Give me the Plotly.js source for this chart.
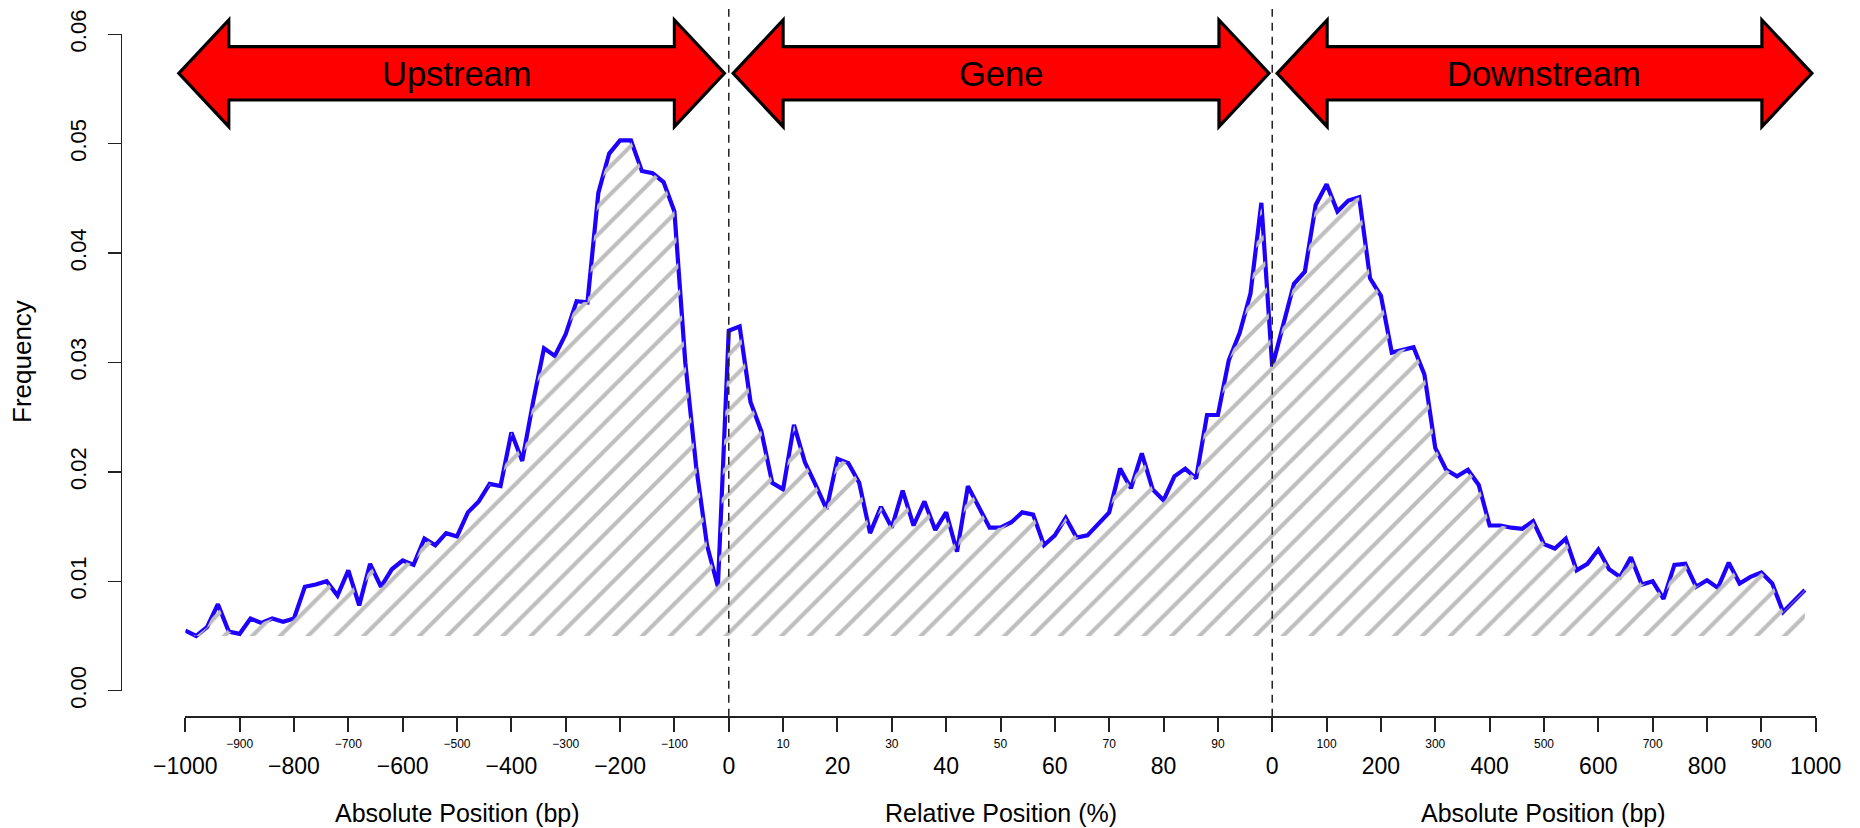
<!DOCTYPE html>
<html><head><meta charset="utf-8">
<script src="https://cdn.plot.ly/plotly-3.0.1.min.js"></script>
<style>html,body{margin:0;padding:0;background:#fff;} #chart{width:1860px;height:828px;}</style>
</head><body><div id="chart"></div>
<script>
// ---------------- DATA ----------------
const upstreamPos = [-1000,-980,-960,-940,-920,-900,-880,-860,-840,-820,-800,-780,-760,-740,-720,-700,-680,-660,-640,-620,-600,-580,-560,-540,-520,-500,-480,-460,-440,-420,-400,-380,-360,-340,-320,-300,-280,-260,-240,-220,-200,-180,-160,-140,-120,-100,-80,-60,-40,-20];
const upstreamFreq = [0.0055,0.0050,0.0058,0.0079,0.0054,0.0052,0.0066,0.0062,0.0066,0.0063,0.0066,0.0095,0.0097,0.0100,0.0087,0.0110,0.0078,0.0116,0.0095,0.0111,0.0119,0.0115,0.0139,0.0133,0.0144,0.0141,0.0163,0.0173,0.0189,0.0187,0.0236,0.0210,0.0264,0.0313,0.0306,0.0326,0.0356,0.0355,0.0455,0.0491,0.0503,0.0503,0.0475,0.0473,0.0465,0.0438,0.0300,0.0205,0.0133,0.0095];
const genePos = [0,2,4,6,8,10,12,14,16,18,20,22,24,26,28,30,32,34,36,38,40,42,44,46,48,50,52,54,56,58,60,62,64,66,68,70,72,74,76,78,80,82,84,86,88,90,92,94,96,98];
const geneFreq = [0.0329,0.0333,0.0264,0.0237,0.0190,0.0184,0.0243,0.0209,0.0188,0.0166,0.0212,0.0208,0.0190,0.0144,0.0168,0.0149,0.0183,0.0151,0.0173,0.0147,0.0163,0.0127,0.0187,0.0168,0.0149,0.0149,0.0154,0.0163,0.0161,0.0133,0.0142,0.0158,0.0140,0.0142,0.0153,0.0163,0.0203,0.0185,0.0217,0.0184,0.0174,0.0196,0.0203,0.0194,0.0252,0.0252,0.0302,0.0327,0.0363,0.0446];
const downstreamPos = [0,20,40,60,80,100,120,140,160,180,200,220,240,260,280,300,320,340,360,380,400,420,440,460,480,500,520,540,560,580,600,620,640,660,680,700,720,740,760,780,800,820,840,860,880,900,920,940,960,980];
const downstreamFreq = [0.0296,0.0335,0.0372,0.0383,0.0444,0.0463,0.0438,0.0448,0.0451,0.0377,0.0361,0.0309,0.0312,0.0314,0.0289,0.0222,0.0202,0.0196,0.0202,0.0188,0.0151,0.0151,0.0149,0.0148,0.0155,0.0134,0.0130,0.0139,0.0110,0.0116,0.0129,0.0111,0.0104,0.0122,0.0097,0.0100,0.0084,0.0115,0.0116,0.0095,0.0101,0.0094,0.0117,0.0098,0.0104,0.0108,0.0098,0.0072,0.0082,0.0092];

const upstreamMajorTicks = [-1000,-800,-600,-400,-200,0];
const upstreamMinorTicks = [-900,-700,-500,-300,-100];
const geneMajorTicks = [20,40,60,80];
const geneMinorTicks = [10,30,50,70,90];
const downstreamMajorTicks = [0,200,400,600,800,1000];
const downstreamMinorTicks = [100,300,500,700,900];
const yTicks = [0,0.01,0.02,0.03,0.04,0.05,0.06];

const regionNames = ["Upstream","Gene","Downstream"];
const axisTitles = ["Absolute Position (bp)","Relative Position (%)","Absolute Position (bp)"];
const yTitle = "Frequency";

// ---------------- MAPPING ----------------
// one shared x scale: upstream bp -> [-1000,0], gene % -> [0,1000], downstream bp -> [1000,2000]
const mapUp = v => v;
const mapGene = p => p * 10;
const mapDown = d => 1000 + d;

const W = 1860, H = 828;
const FONT = 'Liberation Sans, Arial, Helvetica, sans-serif';
const xRange = [-1000, 2000];
const xDomain = [185.3 / W, 1815.7 / W];
const yDomain = [1 - 690.7 / H, 1 - 34.3 / H];
const xAxisPos = 1 - 716.7 / H;
const yAxisPos = 120.5 / W;
const pyToPaper = py => 1 - py / H;
const xToPaper = x => xDomain[0] + (x - xRange[0]) / (xRange[1] - xRange[0]) * (xDomain[1] - xDomain[0]);

const xs = [].concat(upstreamPos.map(mapUp), genePos.map(mapGene), downstreamPos.map(mapDown));
const ys = [].concat(upstreamFreq, geneFreq, downstreamFreq);
const base = Math.min.apply(null, ys);

const lineTrace = {
  x: xs, y: ys, mode: 'lines', type: 'scatter',
  line: {color: 'rgb(30,0,255)', width: 4.2, shape: 'linear'},
  hoverinfo: 'skip'
};
const baseTrace = {
  x: [xs[0], xs[xs.length - 1]], y: [base, base], mode: 'lines', type: 'scatter',
  line: {width: 0, color: 'rgba(0,0,0,0)'}, hoverinfo: 'skip'
};
const hatchTrace = {
  x: xs, y: ys, mode: 'lines', type: 'scatter', fill: 'tonexty',
  fillcolor: 'rgba(0,0,0,0)',
  fillpattern: {shape: '/', fgcolor: '#bebebe', bgcolor: 'rgba(0,0,0,0)', size: 19.7, solidity: 0.21, fillmode: 'replace'},
  line: {width: 0, color: 'rgba(0,0,0,0)'}, hoverinfo: 'skip'
};

// ticks
const majorVals = [].concat(upstreamMajorTicks.map(mapUp), geneMajorTicks.map(mapGene), downstreamMajorTicks.map(mapDown));
const majorText = [].concat(upstreamMajorTicks, geneMajorTicks, downstreamMajorTicks).map(v => String(v).replace('-', '\u2212'));
const minorVals = [].concat(upstreamMinorTicks.map(mapUp), geneMinorTicks.map(mapGene), downstreamMinorTicks.map(mapDown));
const minorText = [].concat(upstreamMinorTicks, geneMinorTicks, downstreamMinorTicks).map(v => String(v).replace('-', '\u2212'));
const allTickVals = majorVals.concat(minorVals);
const allTickText = majorText.concat(minorVals.map(() => ''));

// arrows (decoration)
const arrowSpans = [[-1012, -8], [8, 994], [1009, 1993]];
const headLen = 92;
const cy = 73.3, shaftHalf = 26.7, headHalf = 53.3;
function arrowPath(a, b) {
  const L = xToPaper(a), R = xToPaper(b), bl = xToPaper(a + headLen), br = xToPaper(b - headLen);
  const yc = pyToPaper(cy), st = pyToPaper(cy - shaftHalf), sb = pyToPaper(cy + shaftHalf),
        ht = pyToPaper(cy - headHalf), hb = pyToPaper(cy + headHalf);
  return `M${L},${yc} L${bl},${ht} L${bl},${st} L${br},${st} L${br},${ht} L${R},${yc} L${br},${hb} L${br},${sb} L${bl},${sb} L${bl},${hb} Z`;
}
const shapes = [];
arrowSpans.forEach(s => shapes.push({
  type: 'path', xref: 'paper', yref: 'paper', path: arrowPath(s[0], s[1]),
  fillcolor: '#ff0000', line: {color: '#000', width: 3.2}, layer: 'above'
}));
[mapGene(0), mapGene(100)].forEach(x => shapes.push({
  type: 'line', xref: 'x', yref: 'paper', x0: x, x1: x, y0: xAxisPos, y1: pyToPaper(9),
  line: {color: '#222', width: 1.5, dash: '8px,6px'}, layer: 'above'
}));

const regionCenters = [mapUp(-500), mapGene(50), mapDown(500)];
const annotations = [];
regionNames.forEach((t, i) => annotations.push({
  text: t, xref: 'x', yref: 'paper', x: regionCenters[i], y: pyToPaper(74),
  xanchor: 'center', yanchor: 'middle', showarrow: false, font: {family: FONT, size: 34.5, color: '#000'}
}));
axisTitles.forEach((t, i) => annotations.push({
  text: t, xref: 'x', yref: 'paper', x: regionCenters[i], y: pyToPaper(813),
  xanchor: 'center', yanchor: 'middle', showarrow: false, font: {family: FONT, size: 25, color: '#000'}
}));
annotations.push({
  text: yTitle, xref: 'paper', yref: 'paper', x: 22 / W, y: pyToPaper(362), textangle: -90,
  xanchor: 'center', yanchor: 'middle', showarrow: false, font: {family: FONT, size: 26, color: '#000'}
});

const layout = {
  width: W, height: H, margin: {l: 0, r: 0, t: 0, b: 0},
  paper_bgcolor: '#fff', plot_bgcolor: '#fff', showlegend: false,
  font: {family: FONT, color: '#000'},
  xaxis: {
    range: xRange, domain: xDomain, anchor: 'free', position: xAxisPos,
    tickmode: 'array', tickvals: allTickVals, ticktext: allTickText,
    ticks: 'outside', ticklen: 14, tickwidth: 2, tickcolor: '#222',
    showline: true, linecolor: '#222', linewidth: 2, showgrid: false, zeroline: false,
    tickfont: {family: FONT, size: 23, color: '#000'}, ticklabelstandoff: 15, fixedrange: true
  },
  xaxis2: {
    overlaying: 'x', range: xRange, anchor: 'free', position: xAxisPos,
    tickmode: 'array', tickvals: minorVals, ticktext: minorText,
    ticks: '', showline: false, showgrid: false, zeroline: false,
    tickfont: {family: FONT, size: 12, color: '#000'}, ticklabelstandoff: 18, fixedrange: true
  },
  yaxis: {
    range: [0, 0.06], domain: yDomain, anchor: 'free', position: yAxisPos,
    tickmode: 'array', tickvals: yTicks, ticktext: yTicks.map(v => v.toFixed(2)),
    tickangle: -90, ticks: 'outside', ticklen: 13, tickwidth: 1.3, tickcolor: '#222',
    showline: true, linecolor: '#222', linewidth: 1.3, showgrid: false, zeroline: false,
    tickfont: {family: FONT, size: 22, color: '#000'}, ticklabelstandoff: 13, fixedrange: true
  },
  shapes: shapes, annotations: annotations
};

const minorTrace = {x: [xRange[0]], y: [0], xaxis: 'x2', yaxis: 'y', mode: 'markers', marker: {opacity: 0}, hoverinfo: 'skip'};

Plotly.newPlot('chart', [lineTrace, baseTrace, hatchTrace, minorTrace], layout, {staticPlot: true, displayModeBar: false});
</script></body></html>
